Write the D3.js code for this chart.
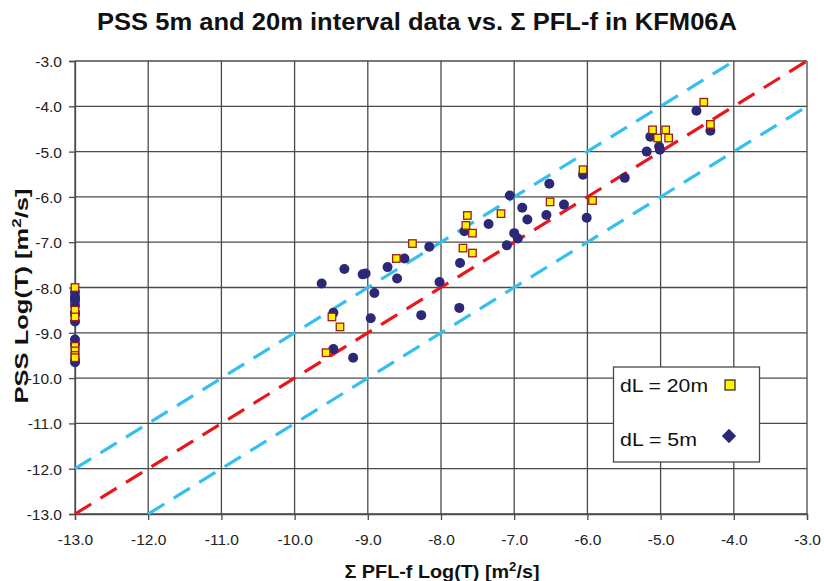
<!DOCTYPE html>
<html>
<head>
<meta charset="utf-8">
<script src="https://cdn.jsdelivr.net/npm/d3@7"></script>
<style>
  body { margin: 0; background: #fff; }
  svg { display: block; font-family: "Liberation Sans", Arial, sans-serif; }
</style>
</head>
<body>
<svg id="chart" width="824" height="581"></svg>
<script>
// PSS interval transmissivity vs. summed PFL-f transmissivity (log10 T, m²/s)
const ticks = [-13, -12, -11, -10, -9, -8, -7, -6, -5, -4, -3];

// dL = 20m intervals: [PFL-f, PSS]
const pfl20 = [-13, -13, -13, -13, -13, -13, -13,
  -9.57, -9.49, -9.38, -8.61, -8.39, -7.70, -7.57, -7.64, -7.66, -7.57,
  -7.18, -6.51, -6.06, -5.93, -5.11, -4.93, -5.04, -4.89, -4.41, -4.32];
const pss20 = [-8.0, -8.5, -8.65, -9.3, -9.4, -9.5, -9.55,
  -9.44, -8.65, -8.87, -7.36, -7.03, -7.13, -7.24, -6.41, -6.63, -6.80,
  -6.37, -6.11, -5.40, -6.08, -4.52, -4.52, -4.70, -4.70, -3.91, -4.40];

// dL = 5m intervals: [PFL-f, PSS]
const pfl5 = [-13, -13, -13, -13, -13, -13, -13, -13, -13, -13, -13, -13,
  -9.63, -9.32, -9.47, -9.47, -9.20, -9.07, -9.03, -8.91, -8.96, -8.73,
  -8.60, -8.50, -8.27, -8.16, -8.02, -7.75, -7.74, -7.68, -7.35, -7.10,
  -7.00, -6.95, -7.06, -6.89, -6.82, -6.56, -6.52, -6.32, -6.06, -6.01,
  -5.49, -5.14, -5.02, -5.19, -5.01, -4.51, -4.32];
const pss5 = [-8.1, -8.2, -8.25, -8.3, -8.4, -8.55, -8.6, -8.75, -9.15, -9.25, -9.6, -9.65,
  -7.91, -7.59, -8.56, -9.36, -9.55, -7.71, -7.69, -8.12, -8.68, -7.55,
  -7.80, -7.36, -8.61, -7.10, -7.88, -8.45, -7.46, -6.76, -6.60, -7.07,
  -6.80, -6.92, -5.97, -6.24, -6.50, -6.40, -5.71, -6.17, -5.51, -6.46,
  -5.58, -4.67, -4.89, -5.00, -4.96, -4.10, -4.54];

// Reference lines: 1:1 and ±1 order of magnitude
const refLines = [
  { name: "1:1", x: [-13, -3], y: [-13, -3], color: "#e8171c" },
  { name: "+1", x: [-13, -4], y: [-12, -3], color: "#35bff0" },
  { name: "-1", x: [-12, -3], y: [-13, -4], color: "#35bff0" }
];

const svg = d3.select("#chart");
const x = d3.scaleLinear().domain([-13, -3]).range([75, 807]);
const y = d3.scaleLinear().domain([-13, -3]).range([514, 61]);
const fmt = d => d.toFixed(1);
const gridColor = "#4a4a4a";

// Gridlines
const grid = svg.append("g");
grid.selectAll("line.v").data(ticks).join("line")
  .attr("x1", d => x(d)).attr("x2", d => x(d))
  .attr("y1", y(-3)).attr("y2", y(-13))
  .attr("stroke", gridColor).attr("stroke-width", 1.3);
grid.selectAll("line.h").data(ticks).join("line")
  .attr("x1", x(-13)).attr("x2", x(-3))
  .attr("y1", d => y(d)).attr("y2", d => y(d))
  .attr("stroke", gridColor).attr("stroke-width", 1.3);

// Axes
const xAxis = svg.append("g").attr("transform", `translate(0,${y(-13)})`)
  .call(d3.axisBottom(x).tickValues(ticks).tickFormat(fmt).tickSize(6).tickPadding(14));
const yAxis = svg.append("g").attr("transform", `translate(${x(-13)},0)`)
  .call(d3.axisLeft(y).tickValues(ticks).tickFormat(fmt).tickSize(6).tickPadding(7));
[xAxis, yAxis].forEach(a => {
  a.select(".domain").attr("stroke", gridColor).attr("stroke-width", 1.3);
  a.selectAll(".tick line").attr("stroke", gridColor).attr("stroke-width", 1.3);
  a.selectAll(".tick text").attr("fill", "#222").style("font-size", "15.5px")
    .style("font-family", "'Liberation Sans', Arial, sans-serif");
});
yAxis.selectAll(".tick text").attr("dy", "0.36em");

// Dashed reference lines
const line = d3.line().x(d => x(d[0])).y(d => y(d[1]));
svg.append("g").selectAll("path").data(refLines).join("path")
  .attr("d", d => line(d3.zip(d.x, d.y)))
  .attr("fill", "none").attr("stroke", d => d.color)
  .attr("stroke-width", 3.2).attr("stroke-dasharray", "19,11");

// dL = 5m markers
svg.append("g").selectAll("circle").data(d3.zip(pfl5, pss5)).join("circle")
  .attr("cx", d => x(d[0])).attr("cy", d => y(d[1])).attr("r", 5)
  .attr("fill", "#2b2878");

// dL = 20m markers
const sq = 7.5;
svg.append("g").selectAll("rect").data(d3.zip(pfl20, pss20)).join("rect")
  .attr("x", d => x(d[0]) - sq / 2).attr("y", d => y(d[1]) - sq / 2)
  .attr("width", sq).attr("height", sq)
  .attr("fill", "#fff200").attr("stroke", "#9a1c1c").attr("stroke-width", 1.3);

// Legend
const lg = svg.append("g");
lg.append("rect").attr("x", 613.5).attr("y", 367).attr("width", 146).attr("height", 95)
  .attr("fill", "#fff").attr("stroke", gridColor).attr("stroke-width", 1.3);
lg.append("text").attr("x", 620).attr("y", 392).text("dL = 20m")
  .attr("textLength", 88).attr("lengthAdjust", "spacingAndGlyphs")
  .style("font-size", "19px").attr("fill", "#111");
lg.append("text").attr("x", 620).attr("y", 446).text("dL = 5m")
  .attr("textLength", 77).attr("lengthAdjust", "spacingAndGlyphs")
  .style("font-size", "19px").attr("fill", "#111");
lg.append("rect").attr("x", 725).attr("y", 380).attr("width", 10).attr("height", 10)
  .attr("fill", "#fff200").attr("stroke", "#222").attr("stroke-width", 1.2);
lg.append("path").attr("d", d3.symbol(d3.symbolDiamond2, 130)())
  .attr("transform", "translate(729,436)").attr("fill", "#2b2878");

// Title
svg.append("text").attr("x", 417).attr("y", 30).attr("text-anchor", "middle")
  .attr("textLength", 640).attr("lengthAdjust", "spacingAndGlyphs")
  .style("font-size", "23px").style("font-weight", "bold").attr("fill", "#111")
  .text("PSS 5m and 20m interval data vs. Σ PFL-f in KFM06A");

// Axis titles
const xt = svg.append("text").attr("x", 442).attr("y", 578).attr("text-anchor", "middle")
  .attr("textLength", 195).attr("lengthAdjust", "spacingAndGlyphs")
  .style("font-size", "18px").style("font-weight", "bold").attr("fill", "#111");
xt.append("tspan").text("Σ PFL-f Log(T) [m");
xt.append("tspan").attr("dy", -7).style("font-size", "12px").text("2");
xt.append("tspan").attr("dy", 7).text("/s]");

const yt = svg.append("text").attr("transform", "translate(28,296) rotate(-90)")
  .attr("text-anchor", "middle")
  .attr("textLength", 215).attr("lengthAdjust", "spacingAndGlyphs")
  .style("font-size", "18px").style("font-weight", "bold").attr("fill", "#111");
yt.append("tspan").text("PSS Log(T) [m");
yt.append("tspan").attr("dy", -7).style("font-size", "12px").text("2");
yt.append("tspan").attr("dy", 7).text("/s]");
</script>
</body>
</html>
